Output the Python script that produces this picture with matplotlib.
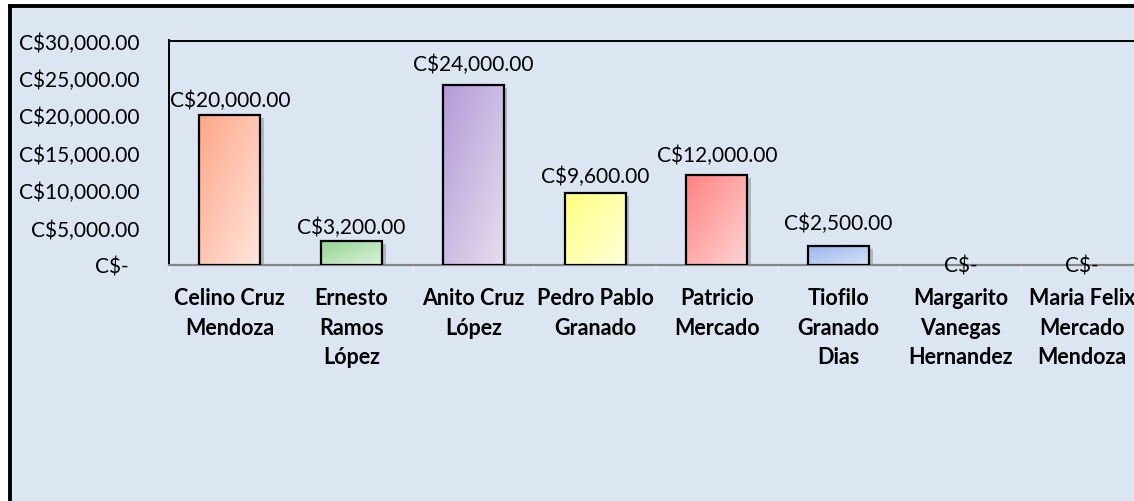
import numpy as np
import matplotlib
matplotlib.use("Agg")
import matplotlib.pyplot as plt
from matplotlib.patches import Rectangle
from matplotlib.lines import Line2D
from matplotlib import patheffects as pe
from matplotlib.colors import LinearSegmentedColormap

# ---- data ----
categories = ["Celino Cruz\nMendoza", "Ernesto\nRamos\nLópez", "Anito Cruz\nLópez",
              "Pedro Pablo\nGranado", "Patricio\nMercado", "Tiofilo\nGranado\nDias",
              "Margarito\nVanegas\nHernandez", "Maria Felix\nMercado\nMendoza"]
values = [20000, 3200, 24000, 9600, 12000, 2500, 0, 0]
value_labels = ["C$20,000.00", "C$3,200.00", "C$24,000.00", "C$9,600.00",
                "C$12,000.00", "C$2,500.00", "C$-", "C$-"]
y_ticks = [0, 5000, 10000, 15000, 20000, 25000, 30000]
y_tick_labels = ["C$-  ", "C$5,000.00", "C$10,000.00", "C$15,000.00",
                 "C$20,000.00", "C$25,000.00", "C$30,000.00"]

# ---- style ----
dark_colors = ["#FFA689", "#94D494", "#B39BD8", "#FFFF80", "#FF8282", "#9DB6EE", "#cccccc", "#cccccc"]
light_colors = ["#FFE6DD", "#DCF2DC", "#E6DEEE", "#FFFFDC", "#FFD4D4", "#D8E2F6", "#eeeeee", "#eeeeee"]
label_offsets_px = [15, 14, 22, 17, 20, 23, -1, -1]   # label distance above bar top

BG = "#DCE6F2"
FONT = "Lato"

W, H = 1134, 502
fig = plt.figure(figsize=(W / 100, H / 100), dpi=100)
fig.patch.set_facecolor("white")

# outer chart area with thick black border (top and left visible)
fig.add_artist(Rectangle((10 / W, 0), 1.0, 1 - 7 / H, transform=fig.transFigure,
                         facecolor=BG, edgecolor="none", zorder=-2))
fig.add_artist(Line2D([10 / W, 10 / W], [0, 1 - 7 / H], transform=fig.transFigure,
                      color="black", linewidth=2.8, zorder=-1, solid_capstyle="projecting"))
fig.add_artist(Line2D([10 / W, 1.0], [1 - 7 / H, 1 - 7 / H], transform=fig.transFigure,
                      color="black", linewidth=2.8, zorder=-1, solid_capstyle="projecting"))

left, right, top, bottom = 169, 1143, 41.5, 266
ax = fig.add_axes([left / W, 1 - bottom / H, (right - left) / W, (bottom - top) / H])
ax.set_zorder(1)
ax.set_facecolor(BG)
ax.set_xlim(-0.5, len(values) - 0.5)
ax.set_ylim(0, 30000)

x = np.arange(len(values))
bars = ax.bar(x, values, width=0.5, color=dark_colors, edgecolor="none", zorder=2)

# gradient fill
gy, gx = np.mgrid[0:1:100j, 0:1:100j]
grad = (gx + (1 - gy)) / 2.0
for b, dc, lc in zip(bars, dark_colors, light_colors):
    h = b.get_height()
    if h <= 0:
        continue
    b.set_path_effects([pe.SimplePatchShadow(offset=(2.5, -2), shadow_rgbFace="#7f7f7f", alpha=0.45), pe.Normal()])
    cmap = LinearSegmentedColormap.from_list("g", [dc, lc])
    im = ax.imshow(grad, cmap=cmap, extent=(b.get_x(), b.get_x() + b.get_width(), 0, h),
                   origin="lower", aspect="auto", zorder=3, interpolation="bilinear")
    im.set_clip_path(b)
# outlines (only for non-empty bars)
edge_cols = ["black" if v > 0 else "none" for v in values]
ax.bar(x, values, width=0.5, facecolor="none", edgecolor=edge_cols, linewidth=1.6, zorder=4)

# data labels
for xi, v, lab, off in zip(x, values, value_labels, label_offsets_px):
    ax.annotate(lab, (xi, v), xytext=(0, off * 0.72), textcoords="offset points",
                ha="center", va="center", fontsize=15, family=FONT, color="black", zorder=5,
                annotation_clip=False)

ax.set_xticks(x)
ax.set_xticklabels(categories, fontsize=15.5, fontweight="bold", family=FONT, linespacing=1.5, va="top")
ax.set_xticks(np.arange(len(values) + 1) - 0.5, minor=True)
ax.tick_params(axis="x", which="major", length=0, pad=16)
ax.tick_params(axis="x", which="minor", length=5, color="#f0f0f0", width=1.2)

ax.set_yticks(y_ticks)
ax.set_yticklabels(y_tick_labels, fontsize=15, family=FONT)
ax.tick_params(axis="y", length=0, pad=21)

for s in ["top", "left"]:
    ax.spines[s].set_color("black")
    ax.spines[s].set_linewidth(1.4)
ax.spines["right"].set_visible(False)
ax.spines["bottom"].set_color("#868686")
ax.spines["bottom"].set_linewidth(1.6)

fig.savefig("out.png", dpi=100, facecolor="white")
